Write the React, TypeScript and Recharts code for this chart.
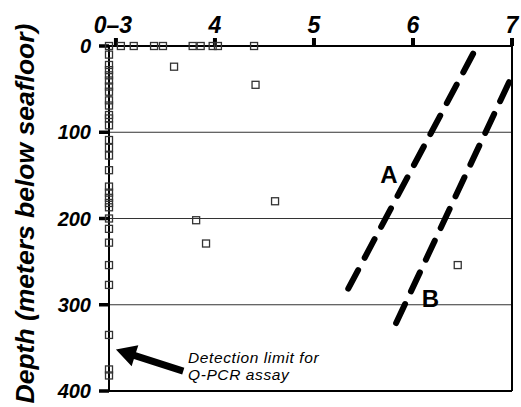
import React from 'react';
import { ScatterChart, Scatter, XAxis, YAxis, ReferenceLine, ReferenceDot } from 'recharts';

// ---- data ----
const X_MIN = 2.93; // left edge of the broken "0–3" section
const xTicks = [3, 4, 5, 6, 7];
const xTickLabels = ['0\u20133', '4', '5', '6', '7'];
const yTicks = [0, 100, 200, 300, 400];
const gridDepths = [100, 200, 300];

// samples below detection limit (plotted on the 0–3 axis)
const belowLimitDepths = [0, 10, 22, 28, 34, 40, 47, 53, 63, 69, 80, 84, 92, 109, 118, 127, 144, 163, 170, 176, 182, 187, 200, 212, 228, 254, 277, 335, 375, 382];
// samples at the seafloor surface (depth 0)
const surfaceValues = [3.05, 3.18, 3.385, 3.475, 3.775, 3.856, 3.977, 4.03, 4.395];
// other detected samples
const detectedValues = [3.587, 4.41, 3.81, 3.91, 4.607, 6.452];
const detectedDepths = [24, 45, 202, 229, 180, 254];

const lineA = [{ x: 6.607, y: 9 }, { x: 5.334, y: 284 }];
const lineB = [{ x: 6.97, y: 42 }, { x: 5.786, y: 332 }];
const curveLabels = [
  { name: 'A', x: 5.758, y: 159 },
  { name: 'B', x: 6.177, y: 303 },
];
const arrowSegment = [{ x: 3.68, y: 377 }, { x: 3.0, y: 352 }];
const noteLines = ['Detection limit for', 'Q-PCR assay'];
const notePos = { x: 3.728, y: 367.5 };
const yLabel = 'Depth (meters below seafloor)';

const points = [
  ...belowLimitDepths.map((d) => ({ x: X_MIN, y: d })),
  ...surfaceValues.map((v) => ({ x: v, y: 0 })),
  ...detectedValues.map((v, i) => ({ x: v, y: detectedDepths[i] })),
];

const FONT = '"Liberation Sans", Arial, sans-serif';
const X_TICK_LEN = 8;
const Y_TICK_LEN = 10;

const SquareShape = (p: any) => (
  <rect x={p.cx - 3.5} y={p.cy - 3.5} width={7} height={7} fill="none" stroke="#333" strokeWidth={1.3} />
);

const XTick = (p: any) => {
  const i = xTicks.indexOf(p.payload.value);
  return (
    <text x={p.x + (i === 0 ? -3 : 0)} y={p.y} textAnchor="middle" fontFamily={FONT} fontWeight="bold" fontStyle="italic" fontSize={23} fill="#000">
      {xTickLabels[i]}
    </text>
  );
};

const YTick = (p: any) => (
  <text x={p.x} y={p.y} dy="0.36em" textAnchor="end" fontFamily={FONT} fontWeight="bold" fontStyle="italic" fontSize={20} fill="#000">
    {p.payload.value}
  </text>
);

// short thick tick mark above the top axis
const XTickMark = (p: any) => {
  const top = Math.min(p.y1, p.y2);
  return <line x1={p.x1} x2={p.x1} y1={top} y2={top - X_TICK_LEN} stroke="#000" strokeWidth={4} />;
};
// short thick tick mark left of the left axis
const YTickMark = (p: any) => {
  const left = Math.min(p.x1, p.x2);
  return <line x1={left} x2={left - Y_TICK_LEN} y1={p.y1} y2={p.y1} stroke="#000" strokeWidth={3.5} />;
};

const DashShape = (p: any) => (
  <line x1={p.x1} y1={p.y1} x2={p.x2} y2={p.y2} stroke="#000" strokeWidth={6} strokeDasharray="21 14" strokeLinecap="round" />
);

const ArrowShape = (p: any) => {
  const { x1, y1, x2, y2 } = p;
  const dx = x2 - x1;
  const dy = y2 - y1;
  const L = Math.hypot(dx, dy) || 1;
  const ux = dx / L;
  const uy = dy / L;
  const nx = -uy;
  const ny = ux;
  const headLen = 20;
  const headHalf = 11;
  const shaftHalf = 3.5;
  const bx = x2 - ux * headLen;
  const by = y2 - uy * headLen;
  const pts = [
    [x1 + nx * shaftHalf, y1 + ny * shaftHalf],
    [bx + nx * shaftHalf, by + ny * shaftHalf],
    [bx + nx * headHalf, by + ny * headHalf],
    [x2, y2],
    [bx - nx * headHalf, by - ny * headHalf],
    [bx - nx * shaftHalf, by - ny * shaftHalf],
    [x1 - nx * shaftHalf, y1 - ny * shaftHalf],
  ];
  return <polygon points={pts.map((q) => q.join(',')).join(' ')} fill="#000" />;
};

const YLabel = (p: any) => {
  const vb = p.viewBox || { x: 0, y: 46, width: 109, height: 345 };
  const cy = vb.y + vb.height / 2 - 5;
  return (
    <text transform={`translate(34, ${cy}) rotate(-90)`} textAnchor="middle" fontFamily={FONT} fontWeight="bold" fontStyle="italic" fontSize={26.5} fill="#000">
      {yLabel}
    </text>
  );
};

const NoteShape = (p: any) => (
  <g>
    {noteLines.map((t, i) => (
      <text key={t} x={p.cx} y={p.cy + i * 17} fontFamily={FONT} fontStyle="italic" fontSize={15.5} letterSpacing={0.6} fill="#000">
        {t}
      </text>
    ))}
  </g>
);

export default function App() {
  return (
    <div style={{ position: 'absolute', left: 0, top: 0 }}>
      <ScatterChart width={521} height={407} margin={{ top: 0, right: 9, bottom: 16, left: 0 }}>
        <XAxis
          type="number"
          dataKey="x"
          orientation="top"
          domain={[X_MIN, 7]}
          ticks={xTicks}
          height={46}
          tickSize={8}
          tickMargin={5}
          tick={<XTick />}
          axisLine={{ stroke: '#000', strokeWidth: 2 }}
          tickLine={false}
        />
        <YAxis
          type="number"
          dataKey="y"
          reversed
          domain={[0, 400]}
          ticks={yTicks}
          width={109}
          tickSize={10}
          tickMargin={8}
          tick={<YTick />}
          axisLine={{ stroke: '#000', strokeWidth: 2 }}
          tickLine={false}
          label={{ content: YLabel }}
        />
        {gridDepths.map((d) => (
          <ReferenceLine key={d} y={d} stroke="#333" strokeWidth={1} />
        ))}
        <ReferenceLine x={7} stroke="#000" strokeWidth={2} />
        <ReferenceLine y={400} stroke="#000" strokeWidth={2} />
        {xTicks.map((t) => (
          <ReferenceLine key={'xt' + t} x={t} shape={XTickMark} />
        ))}
        {yTicks.map((t) => (
          <ReferenceLine key={'yt' + t} y={t} shape={YTickMark} />
        ))}
        <ReferenceLine segment={lineA} shape={DashShape} />
        <ReferenceLine segment={lineB} shape={DashShape} />
        <ReferenceLine segment={arrowSegment} shape={ArrowShape} />
        {curveLabels.map((c) => (
          <ReferenceDot
            key={c.name}
            x={c.x}
            y={c.y}
            r={0}
            shape={(p: any) => (
              <text x={p.cx} y={p.cy} textAnchor="middle" fontFamily={FONT} fontWeight="bold" fontSize={24} fill="#000">
                {c.name}
              </text>
            )}
          />
        ))}
        <ReferenceDot x={notePos.x} y={notePos.y} r={0} shape={NoteShape} />
        <Scatter data={points} shape={<SquareShape />} isAnimationActive={false} />
      </ScatterChart>
    </div>
  );
}
